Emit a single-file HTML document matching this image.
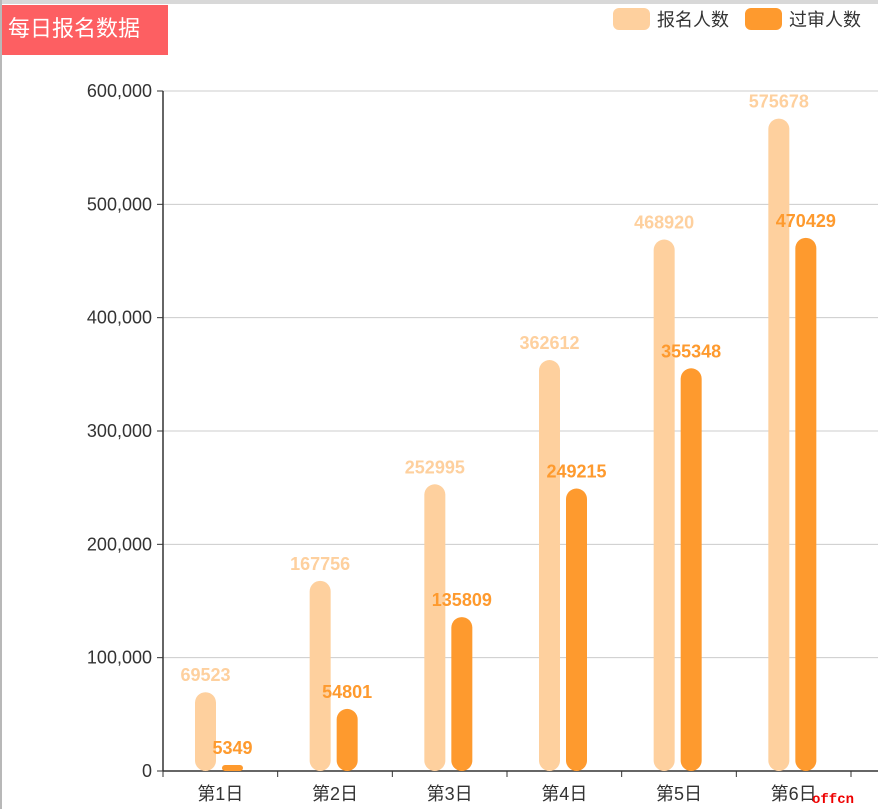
<!DOCTYPE html>
<html><head><meta charset="utf-8"><style>
body{margin:0;width:878px;height:809px;overflow:hidden;background:#fff;font-family:"Liberation Sans","Noto Sans CJK SC",sans-serif}
#chrome-top{position:absolute;left:0;top:0;width:878px;height:4px;background:#d8d8d8}
#chrome-left{position:absolute;left:0;top:0;width:2px;height:809px;background:#b8b8b8}
#title{position:absolute;left:2px;top:5px;width:166px;height:50px;background:#fd5f62;color:#fff;font-size:22px;line-height:48px;padding-left:6px;box-sizing:border-box}
svg{position:absolute;left:0;top:0}
</style></head><body>
<div id="chrome-top"></div>
<div id="chrome-left"></div>
<div id="title">每日报名数据</div>
<svg id="chart" width="878" height="809"></svg>
<script>
const categories=["第1日","第2日","第3日","第4日","第5日","第6日"];
const signupValues=[69523,167756,252995,362612,468920,575678];
const approvedValues=[5349,54801,135809,249215,355348,470429];
const yTicks=[0,100000,200000,300000,400000,500000,600000];
const seriesNames=["报名人数","过审人数"];
const colors=["#fed09e","#fe9a2e"];
const NS="http://www.w3.org/2000/svg";
const svg=document.getElementById('chart');
const x0=163,x1=851,y0=771,yTop=91,yMax=600000;
const band=(x1-x0)/categories.length;
const y=v=>y0-(v/yMax)*(y0-yTop);
const xb=i=>x0+band*i;
function el(t,a,txt){const e=document.createElementNS(NS,t);for(const k in a)e.setAttribute(k,a[k]);if(txt!=null)e.textContent=txt;svg.appendChild(e);return e;}
yTicks.forEach(v=>{
  if(v>0){const g=el('line',{x1:x0,x2:878,y1:y(v),y2:y(v),stroke:'#cccccc','stroke-width':1});
  
  }
  const tk=el('line',{x1:x0-6,x2:x0,y1:y(v),y2:y(v),stroke:'#333'});
  
  
  const t=el('text',{x:x0-11,y:y(v)+6,'text-anchor':'end','font-size':18,fill:'#333'},v.toLocaleString('en-US'));
  
  
});
const ya=el('line',{x1:x0,x2:x0,y1:yTop,y2:y0,stroke:'#333','stroke-width':1.5});


const xa=el('line',{x1:x0,x2:878,y1:y0,y2:y0,stroke:'#333','stroke-width':1.5});


for(let i=0;i<=categories.length;i++){
  const tk=el('line',{x1:xb(i),x2:xb(i),y1:y0,y2:y0+6,stroke:'#333'});
  
  
}
categories.forEach((c,i)=>{
  const t=el('text',{x:xb(i)+band/2,y:y0+29,'text-anchor':'middle','font-size':18,fill:'#333'},c);
  
  
  [signupValues[i],approvedValues[i]].forEach((v,s)=>{
    const cx=xb(i)+42.5+s*27,w=21,top=y(v),h=y0-top,r=Math.min(10.5,h/2);
    const b=el('rect',{x:cx-w/2,y:top,width:w,height:h,rx:r,ry:r,fill:colors[s]});
    
    
    const l=el('text',{x:cx,y:top-11,'text-anchor':'middle','font-size':18,'font-weight':'bold',fill:colors[s]},String(v));
    
    
  });
});
[[613,seriesNames[0]],[745,seriesNames[1]]].forEach(([lx,n],s)=>{
  const r=el('rect',{x:lx,y:8,width:37,height:22,rx:6,fill:colors[s]});
  
  
  const t=el('text',{x:lx+44,y:26,'font-size':18,fill:'#333'},n);
  
  
});
const wm=el('text',{x:812,y:803,'font-size':14,'font-weight':'bold',fill:'#e00','font-family':'Liberation Mono,monospace'},'offcn');


</script>
</body></html>
